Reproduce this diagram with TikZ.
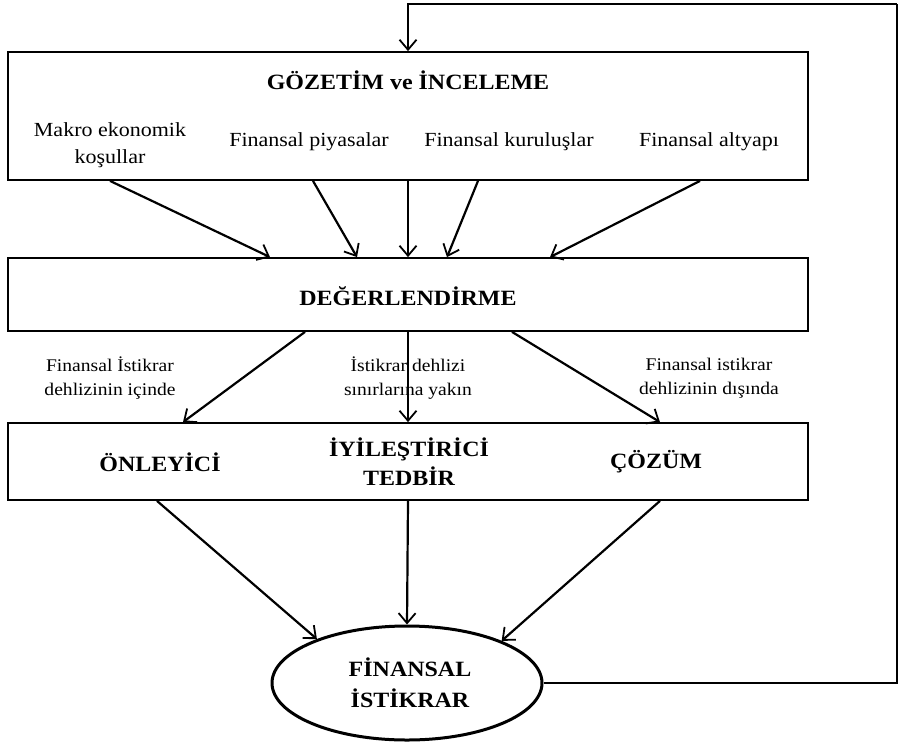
\documentclass[tikz,border=0pt]{standalone}
\usepackage{fontspec}
\setmainfont{Liberation Serif}[FakeStretch=1.1]
\usetikzlibrary{arrows.meta,shapes.geometric}
\begin{document}
\begin{tikzpicture}[x=1pt,y=-1pt,
  box/.style={draw,line width=1.8pt,minimum width=800pt,inner sep=0pt},
  title/.style={font=\fontsize{21.8}{24}\selectfont\bfseries,align=center},
  sub/.style={font=\fontsize{20}{27}\selectfont,align=center},
  lab/.style={font=\fontsize{17.8}{24}\selectfont,align=center,fill=white,inner sep=1pt},
  arr/.style={line width=2.2pt,-{Straight Barb[length=10pt,width=17pt,line width=1.8pt]}},
  fb/.style={line width=2.6pt}]
\useasboundingbox (0,0) rectangle (899,742);
\node[box,minimum height=128pt] (b1) at (408,116) {};
\node[box,minimum height=73pt] (b2) at (408,294.5) {};
\node[box,minimum height=77pt] (b3) at (408,461.5) {};
\node[draw,ellipse,line width=3pt,minimum width=270pt,minimum height=114pt,inner sep=0pt] (e) at (407,683) {};

\node[title] (t1) at (408,80) {GÖZETİM ve İNCELEME};
\node[sub] (s1) at (110,145) {Makro ekonomik\\koşullar};
\node[sub] (s2) at (309,142) {Finansal piyasalar};
\node[sub] (s3) at (509,142) {Finansal kuruluşlar};
\node[sub] (s4) at (709,142) {Finansal altyapı};
\node[title] (t2) at (408,296) {DEĞERLENDİRME};

\draw[arr] ([xshift=-298pt]b1.south) -- ([xshift=-138pt]b2.north);
\draw[arr] ([xshift=-95pt]b1.south) -- ([xshift=-51pt]b2.north);
\draw[arr] (b1.south) -- (b2.north);
\draw[arr] ([xshift=70pt]b1.south) -- ([xshift=39pt]b2.north);
\draw[arr] ([xshift=292pt]b1.south) -- ([xshift=142pt]b2.north);

\node[lab] (l1) at (110,378) {Finansal İstikrar\\dehlizinin içinde};
\node[lab] (l3) at (709,378) {Finansal istikrar\\dehlizinin dışında};
\node[lab] (l2) at (408,378) {İstikrar dehlizi\\sınırlarına yakın};

\draw[arr] ([xshift=-103pt]b2.south) -- ([xshift=-225pt]b3.north);
\draw[arr] (b2.south) -- (b3.north);
\draw[arr] ([xshift=104pt]b2.south) -- ([xshift=252pt]b3.north);

\node[title] (o1) at (160,462) {ÖNLEYİCİ};
\node[title,font=\fontsize{21.8}{29}\selectfont\bfseries] (o2) at (409,462) {İYİLEŞTİRİCİ\\TEDBİR};
\node[title] (o3) at (656,462) {ÇÖZÜM};

\draw[arr] ([xshift=-251pt]b3.south) -- (e.154);
\draw[arr] (b3.south) -- (e.north);
\draw[arr] ([xshift=252pt]b3.south) -- (e.24);

\node[title,font=\fontsize{21.8}{31}\selectfont\bfseries] (et) at (410,683) {FİNANSAL\\İSTİKRAR};

\coordinate (fbR) at (897,4);
\draw[fb] (e.east) -| (fbR);
\draw[arr,line width=2.6pt] (fbR) -| (b1.north);
\end{tikzpicture}
\end{document}
